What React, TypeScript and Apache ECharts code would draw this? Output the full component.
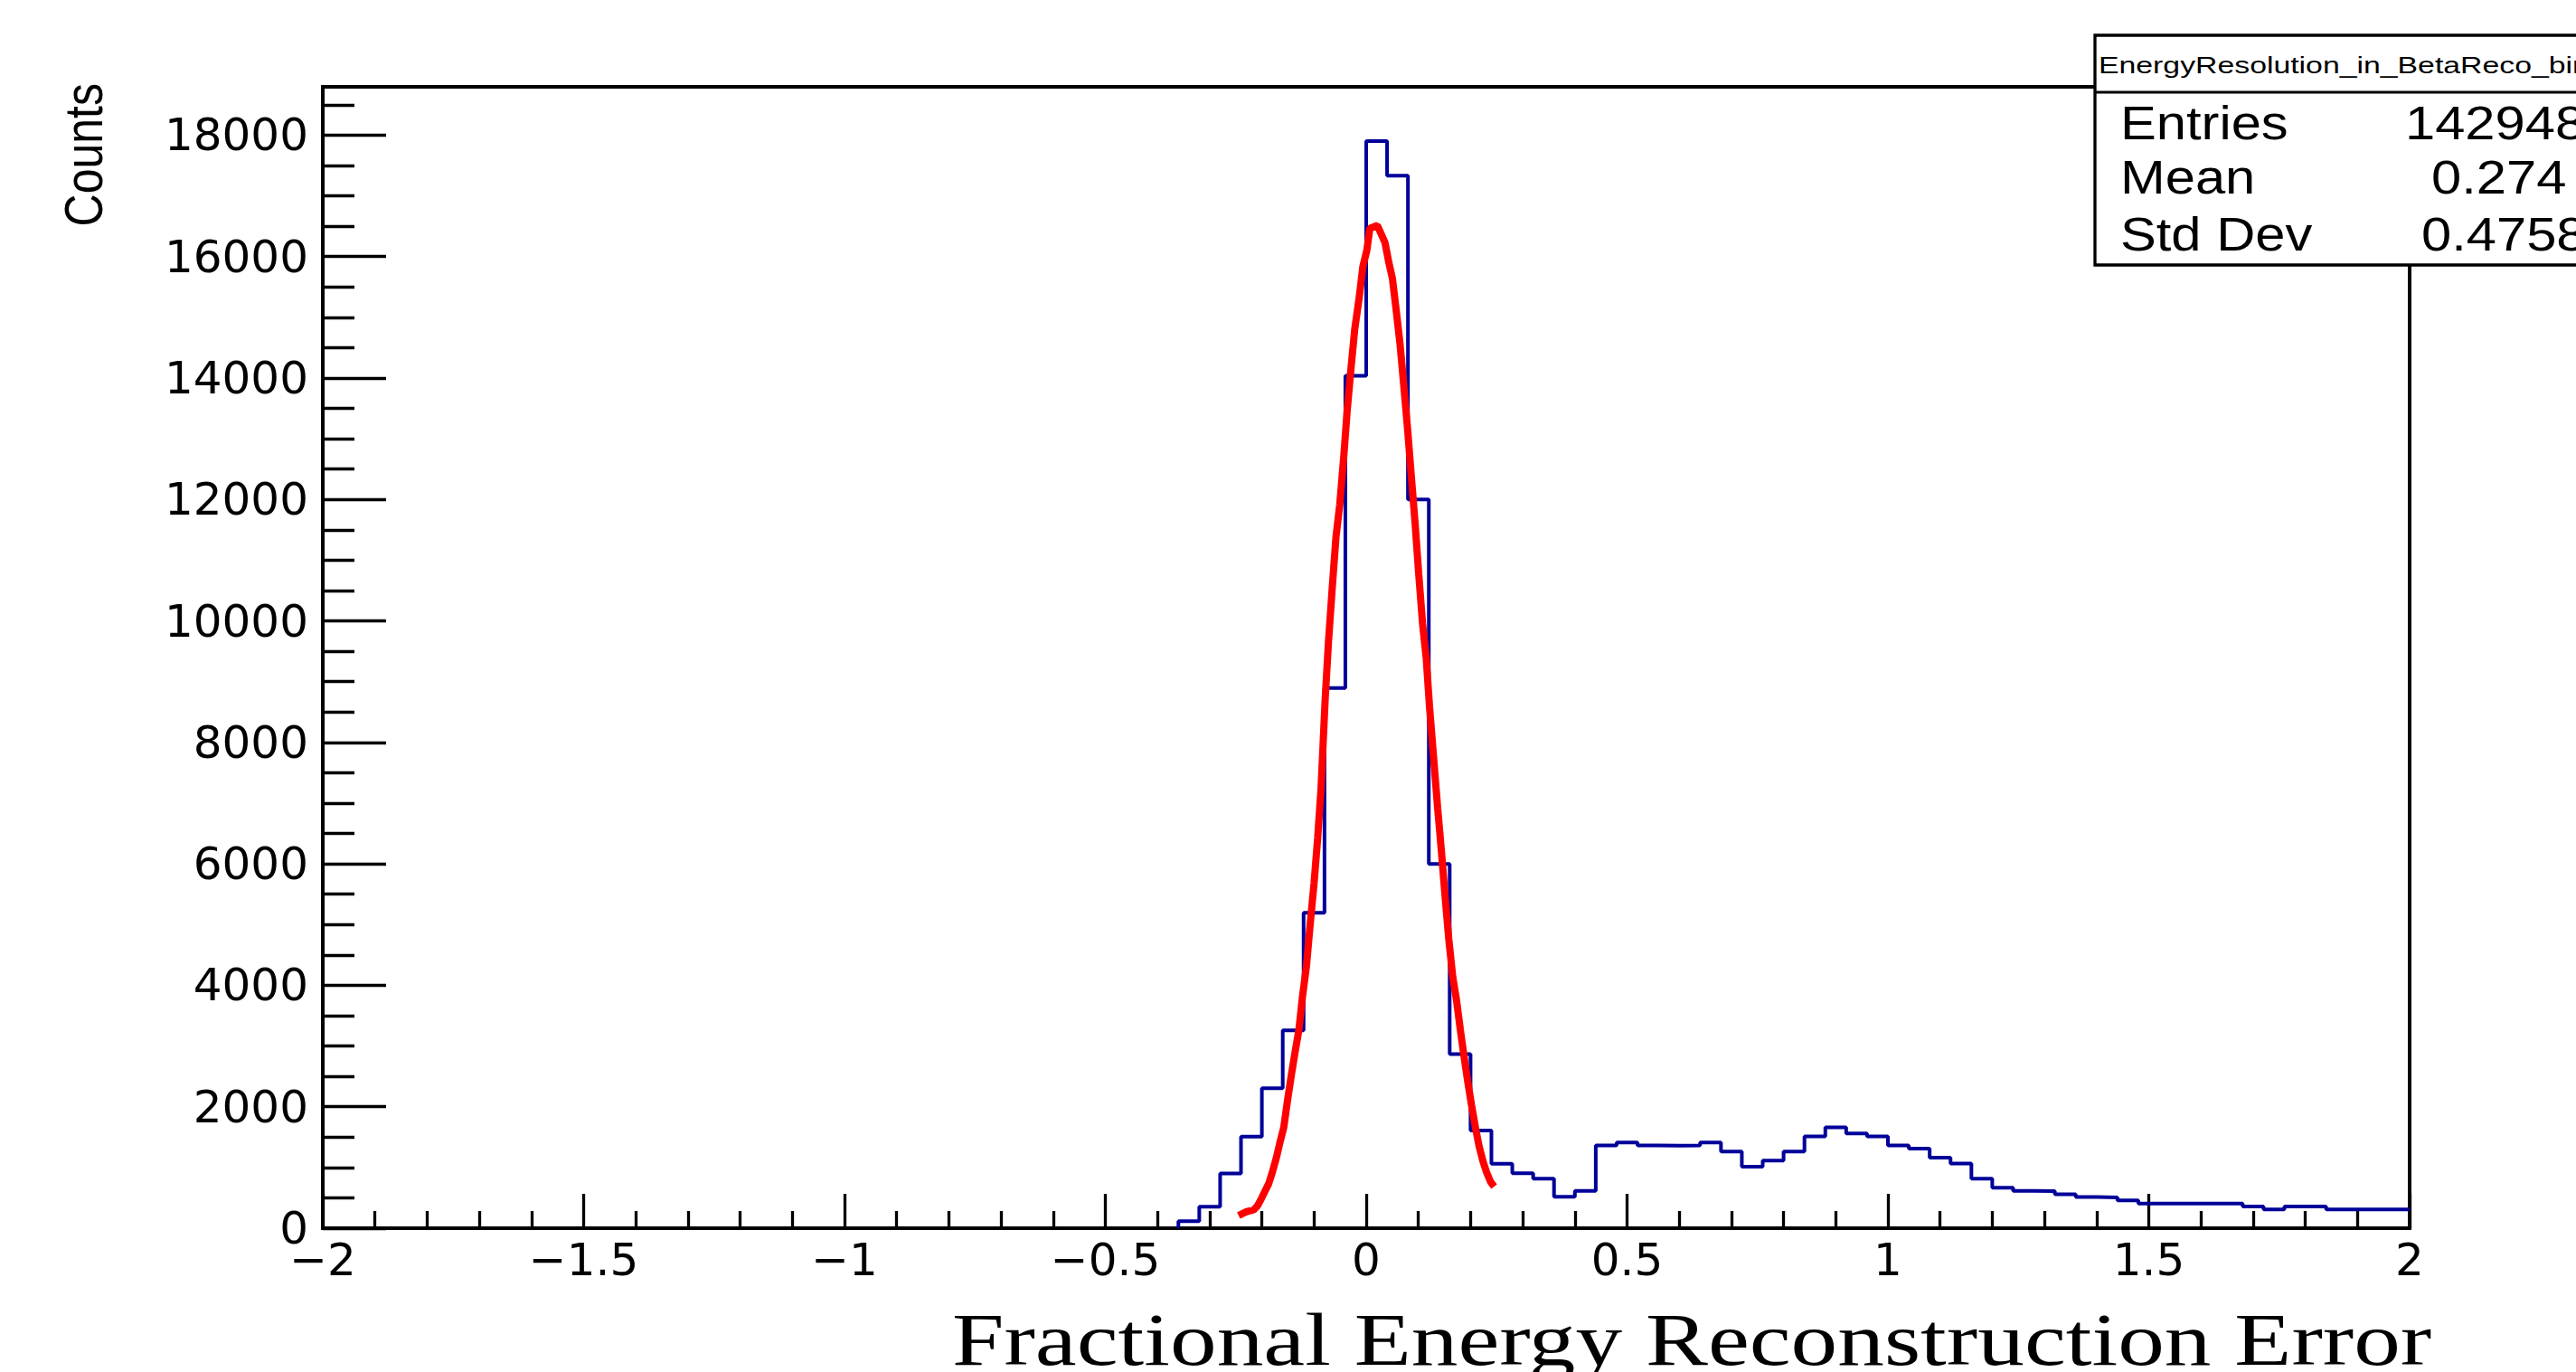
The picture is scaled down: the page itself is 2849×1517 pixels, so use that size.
import React, { useEffect, useRef } from "react";
import * as echarts from "echarts";

// ---------- data ----------
// Histogram: lower bin edges (bin width 0.04) and counts
const histEdges = [
  -0.36, -0.32, -0.28, -0.24, -0.2, -0.16, -0.12, -0.08, -0.04, 0.0,
  0.04, 0.08, 0.12, 0.16, 0.2, 0.24, 0.28, 0.32, 0.36, 0.4,
  0.44, 0.48, 0.52, 0.56, 0.6, 0.64, 0.68, 0.72, 0.76, 0.8,
  0.84, 0.88, 0.92, 0.96, 1.0, 1.04, 1.08, 1.12, 1.16, 1.2,
  1.24, 1.28, 1.32, 1.36, 1.4, 1.44, 1.48, 1.52, 1.56, 1.6,
  1.64, 1.68, 1.72, 1.76, 1.8, 1.84, 1.88, 1.92, 1.96,
];
const histCounts = [
  115, 352, 901, 1507, 2303, 3256, 5194, 8896, 14037, 17900,
  17330, 12000, 6000, 2866, 1610, 1060, 905, 815, 517, 616,
  1361, 1411, 1361, 1358, 1364, 1411, 1262, 1013, 1113, 1262,
  1510, 1659, 1560, 1510, 1361, 1311, 1162, 1063, 815, 666,
  616, 612, 560, 512, 507, 457, 407, 407, 407, 407,
  407, 358, 308, 358, 358, 308, 308, 308, 308,
];
const histUpperEdge = 2.0;

// Gaussian fit curve (red)
const fitX = [
  -0.2446, -0.23, -0.2157, -0.2087, -0.201, -0.194, -0.1868, -0.18, -0.172, -0.1653,
  -0.158, -0.151, -0.1434, -0.1364, -0.129, -0.122, -0.1145, -0.1075, -0.1, -0.0931,
  -0.0867, -0.0787, -0.0724, -0.0654, -0.058, -0.0508, -0.043, -0.0364, -0.029, -0.022,
  -0.0133, -0.0064, 0.0011, 0.007, 0.0214, 0.0359, 0.0434, 0.0503, 0.0572, 0.0647,
  0.0717, 0.0792, 0.0862, 0.0937, 0.1006, 0.1081, 0.1151, 0.1214, 0.1295, 0.137,
  0.1445, 0.1515, 0.1584, 0.166, 0.173, 0.1804, 0.1874, 0.1948, 0.2018, 0.2093,
  0.2163, 0.2237, 0.2307, 0.2382, 0.2452,
];
const fitY = [
  209, 271, 302, 364, 487, 611, 735, 920, 1167, 1414,
  1661, 2094, 2526, 2897, 3268, 3824, 4318, 4998, 5677, 6418,
  7221, 8703, 9647, 10511, 11377, 11909, 12707, 13472, 14171, 14803,
  15334, 15834, 16099, 16465, 16512, 16233, 15899, 15634, 15135, 14570,
  13904, 13172, 12408, 11609, 10778, 9946, 9380, 8580, 7716, 6913,
  6171, 5430, 4750, 4132, 3762, 3268, 2836, 2402, 2032, 1661,
  1353, 1106, 920, 766, 685,
];

// Axes
const xMin = -2;
const xMax = 2;
const yMin = 0;
const yMax = 18795;
const xMajorTicks = [-2, -1.5, -1, -0.5, 0, 0.5, 1, 1.5, 2];
const xTickLabels = ["\u22122", "\u22121.5", "\u22121", "\u22120.5", "0", "0.5", "1", "1.5", "2"];
const xMinorTicks = [
  -1.9, -1.8, -1.7, -1.6, -1.4, -1.3, -1.2, -1.1, -0.9, -0.8, -0.7, -0.6,
  -0.4, -0.3, -0.2, -0.1, 0.1, 0.2, 0.3, 0.4, 0.6, 0.7, 0.8, 0.9,
  1.1, 1.2, 1.3, 1.4, 1.6, 1.7, 1.8, 1.9,
];
const yMajorTicks = [0, 2000, 4000, 6000, 8000, 10000, 12000, 14000, 16000, 18000];
const yTickLabels = ["0", "2000", "4000", "6000", "8000", "10000", "12000", "14000", "16000", "18000"];
const yMinorTicks = [
  500, 1000, 1500, 2500, 3000, 3500, 4500, 5000, 5500, 6500, 7000, 7500,
  8500, 9000, 9500, 10500, 11000, 11500, 12500, 13000, 13500, 14500, 15000,
  15500, 16500, 17000, 17500, 18500,
];

// Texts
const xTitle = "Fractional Energy Reconstruction Error";
const yTitle = "Counts";
const statsName = "EnergyResolution_in_BetaReco_bin";
const statsLabels = ["Entries", "Mean", "Std Dev"];
const statsValues = ["142948", "0.274", "0.4758"];

const labelFor = (v: number, ticks: number[], labels: string[]) => {
  const i = ticks.findIndex((t) => Math.abs(t - v) < 1e-6);
  return i >= 0 ? labels[i] : "";
};

export default function App() {
  const ref = useRef<HTMLDivElement>(null);

  useEffect(() => {
    if (!ref.current) return;
    const chart = echarts.init(ref.current, null, { renderer: "svg" });

    const histData: number[][] = [[histEdges[0], 0]];
    histEdges.forEach((e, i) => histData.push([e, histCounts[i]]));
    histData.push([histUpperEdge, histCounts[histCounts.length - 1]]);

    const fitData = fitX.map((x, i) => [x, fitY[i]]);

    const tickFont = { fontFamily: "DejaVu Sans", fontSize: 50, color: "#000" };
    const hiddenLine = { show: false, onZero: false };

    const statsValueX = [2660, 2689, 2678];
    const statsRowY = [137, 197, 260];

    const option: any = {
      animation: false,
      backgroundColor: "#ffffff",
      grid: {
        left: 357,
        right: 184,
        top: 96,
        bottom: 159,
        show: true,
        borderColor: "#000",
        borderWidth: 4,
        backgroundColor: "transparent",
      },
      xAxis: [
        {
          type: "value",
          min: xMin,
          max: xMax,
          position: "bottom",
          axisLine: hiddenLine,
          splitLine: { show: false },
          axisTick: {
            show: true,
            inside: true,
            length: 38,
            customValues: xMajorTicks,
            lineStyle: { color: "#000", width: 3.3 },
          },
          axisLabel: {
            show: true,
            customValues: xMajorTicks,
            showMinLabel: true,
            showMaxLabel: true,
            margin: 10,
            ...tickFont,
            formatter: (v: number) => labelFor(v, xMajorTicks, xTickLabels),
          },
        },
        {
          type: "value",
          min: xMin,
          max: xMax,
          position: "bottom",
          axisLine: hiddenLine,
          splitLine: { show: false },
          axisTick: {
            show: true,
            inside: true,
            length: 19,
            customValues: xMinorTicks,
            lineStyle: { color: "#000", width: 3.3 },
          },
          axisLabel: { show: false },
        },
      ],
      yAxis: [
        {
          type: "value",
          min: yMin,
          max: yMax,
          position: "left",
          axisLine: hiddenLine,
          splitLine: { show: false },
          axisTick: {
            show: true,
            inside: true,
            length: 70,
            customValues: yMajorTicks,
            lineStyle: { color: "#000", width: 3.3 },
          },
          axisLabel: {
            show: true,
            customValues: yMajorTicks,
            margin: 16,
            ...tickFont,
            formatter: (v: number) => labelFor(v, yMajorTicks, yTickLabels),
          },
        },
        {
          type: "value",
          min: yMin,
          max: yMax,
          position: "left",
          axisLine: hiddenLine,
          splitLine: { show: false },
          axisTick: {
            show: true,
            inside: true,
            length: 35,
            customValues: yMinorTicks,
            lineStyle: { color: "#000", width: 3.3 },
          },
          axisLabel: { show: false },
        },
      ],
      series: [
        {
          type: "line",
          name: "histogram",
          xAxisIndex: 0,
          yAxisIndex: 0,
          step: "end",
          data: histData,
          symbol: "none",
          lineStyle: { color: "#000099", width: 4 },
          itemStyle: { color: "#000099" },
          z: 2,
        },
        {
          type: "line",
          name: "fit",
          xAxisIndex: 0,
          yAxisIndex: 0,
          data: fitData,
          symbol: "none",
          smooth: false,
          lineStyle: { color: "#ff0000", width: 8 },
          itemStyle: { color: "#ff0000" },
          z: 3,
        },
      ],
      graphic: [
        {
          type: "text",
          x: 1053,
          y: 1481,
          scaleX: 1.26,
          z: 50,
          style: {
            text: xTitle,
            fontFamily: "Liberation Serif",
            fontSize: 82,
            fill: "#000",
            align: "left",
            verticalAlign: "middle",
          },
        },
        {
          type: "text",
          x: 92,
          y: 92,
          rotation: Math.PI / 2,
          scaleY: 1.2,
          z: 50,
          style: {
            text: yTitle,
            fontFamily: "Liberation Sans",
            fontSize: 50,
            fill: "#000",
            align: "right",
            verticalAlign: "middle",
          },
        },
        {
          type: "rect",
          z: 100,
          shape: { x: 2317, y: 39, width: 600, height: 254 },
          style: { fill: "#fff", stroke: "#000", lineWidth: 3.3 },
        },
        {
          type: "line",
          z: 101,
          shape: { x1: 2317, y1: 102, x2: 2900, y2: 102 },
          style: { stroke: "#000", lineWidth: 3 },
        },
        {
          type: "text",
          x: 2321,
          y: 72,
          scaleX: 1.3,
          z: 102,
          style: {
            text: statsName,
            fontFamily: "Liberation Sans",
            fontSize: 26,
            fill: "#000",
            align: "left",
            verticalAlign: "middle",
          },
        },
        ...statsLabels.map((t, i) => ({
          type: "text",
          x: 2345,
          y: statsRowY[i],
          scaleX: 1.17,
          z: 102,
          style: {
            text: t,
            fontFamily: "Liberation Sans",
            fontSize: 51,
            fill: "#000",
            align: "left",
            verticalAlign: "middle",
          },
        })),
        ...statsValues.map((t, i) => ({
          type: "text",
          x: statsValueX[i],
          y: statsRowY[i],
          scaleX: 1.17,
          z: 102,
          style: {
            text: t,
            fontFamily: "Liberation Sans",
            fontSize: 51,
            fill: "#000",
            align: "left",
            verticalAlign: "middle",
          },
        })),
      ],
    };

    chart.setOption(option);
    return () => chart.dispose();
  }, []);

  return (
    <div
      ref={ref}
      style={{
        position: "fixed",
        left: 0,
        top: 0,
        width: 2849,
        height: 1517,
        background: "#fff",
      }}
    />
  );
}
